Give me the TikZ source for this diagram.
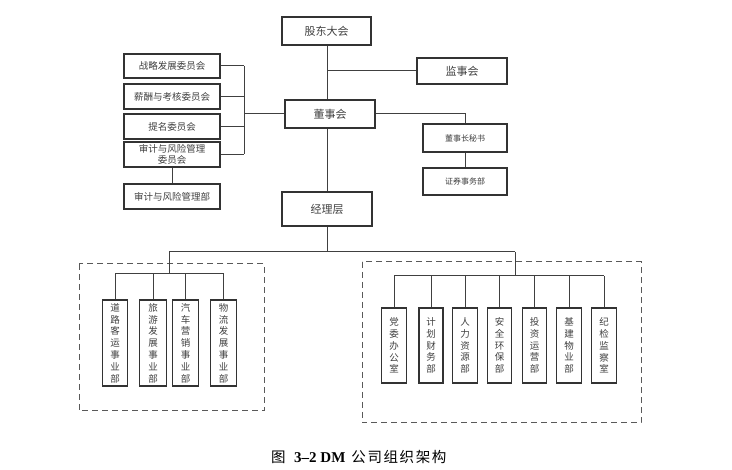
\documentclass[tikz,border=0pt]{standalone}
\usepackage{fontspec}
\setmainfont{Liberation Serif}
\newfontfamily\cjk{Noto Sans CJK SC}
\begin{document}
\begin{tikzpicture}[x=1pt,y=-1pt,
  box/.style={draw=black!80, line width=1.3pt, fill=white, inner sep=0pt, text=black!75,
    font=\cjk\fontsize{9.5}{11}\selectfont, align=center},
  big/.style={box, font=\cjk\fontsize{11}{13}\selectfont},
  small/.style={box, font=\cjk\fontsize{8}{10}\selectfont},
  vbox/.style={box, font=\cjk\fontsize{9.5}{11.8}\selectfont},
  conn/.style={draw=black!75, line width=1pt},
  grp/.style={draw=black!65, line width=1pt, dash pattern=on 6pt off 4pt}]
\useasboundingbox (0,0) rectangle (732,470);

% dashed groups
\draw[grp] (79,264) rectangle (264,411);
\draw[grp] (362,262) rectangle (641,423);

% top nodes
\node[big, minimum width=89, minimum height=28] (gd) at (326.5,31) {股东大会};
\node[big, minimum width=90, minimum height=26] (js) at (462,71) {监事会};
\node[big, minimum width=90, minimum height=28] (dsh) at (330,114) {董事会};
\node[big, minimum width=90, minimum height=34] (jl) at (327,209) {经理层};

% committees
\node[box, minimum width=96, minimum height=24] (c1) at (172,66) {战略发展委员会};
\node[box, minimum width=96, minimum height=25] (c2) at (172,96.5) {薪酬与考核委员会};
\node[box, minimum width=96, minimum height=25] (c3) at (172,126.5) {提名委员会};
\node[box, minimum width=96, minimum height=25] (c4) at (172,154.5) {审计与风险管理\\委员会};
\node[box, minimum width=96, minimum height=25] (c5) at (172,196.5) {审计与风险管理部};

% secretary
\node[small, minimum width=84, minimum height=28] (ms) at (465,138) {董事长秘书};
\node[small, minimum width=84, minimum height=27] (zq) at (465,181.5) {证券事务部};

% left business units
\node[vbox, minimum width=25, minimum height=86] (l1) at (115,343) {道\\路\\客\\运\\事\\业\\部};
\node[vbox, minimum width=27, minimum height=86] (l2) at (153,343) {旅\\游\\发\\展\\事\\业\\部};
\node[vbox, minimum width=26, minimum height=86] (l3) at (185.5,343) {汽\\车\\营\\销\\事\\业\\部};
\node[vbox, minimum width=26, minimum height=86] (l4) at (223.5,343) {物\\流\\发\\展\\事\\业\\部};

% right functional departments
\node[vbox, minimum width=25, minimum height=75] (r1) at (394,345.5) {党\\委\\办\\公\\室};
\node[vbox, minimum width=24, minimum height=75] (r2) at (431,345.5) {计\\划\\财\\务\\部};
\node[vbox, minimum width=25, minimum height=75] (r3) at (465,345.5) {人\\力\\资\\源\\部};
\node[vbox, minimum width=24, minimum height=75] (r4) at (499.5,345.5) {安\\全\\环\\保\\部};
\node[vbox, minimum width=24, minimum height=75] (r5) at (534.5,345.5) {投\\资\\运\\营\\部};
\node[vbox, minimum width=25, minimum height=75] (r6) at (569,345.5) {基\\建\\物\\业\\部};
\node[vbox, minimum width=25, minimum height=75] (r7) at (604,345.5) {纪\\检\\监\\察\\室};

% helper coordinates
\coordinate (trunk) at (327,0);
\coordinate (bk) at (244,114);
\coordinate (busL) at (169,252);
\coordinate (busR) at (515,252);
\coordinate (subL) at (169,274);
\coordinate (subR) at (515,276);

% trunk
\draw[conn] (gd.south -| trunk) -- (dsh.north -| trunk);
\draw[conn] (js.west -| trunk) -- (js.west);
\draw[conn] (dsh.south -| trunk) -- (jl.north -| trunk);
\draw[conn] (jl.south -| trunk) -- (busL -| trunk);

% committees bracket
\draw[conn] (c1.east) -- (c1.east -| bk);
\draw[conn] (c2.east) -- (c2.east -| bk);
\draw[conn] (c3.east) -- (c3.east -| bk);
\draw[conn] (c4.east) -- (c4.east -| bk);
\draw[conn] (c1.east -| bk) -- (c4.east -| bk);
\draw[conn] (dsh.west -| bk) -- (dsh.west);
\draw[conn] (c4.south) -- (c5.north);

% secretary
\draw[conn] (dsh.east) -| (ms.north);
\draw[conn] (ms.south) -- (zq.north);

% manager bus
\draw[conn] (busL) -- (busR);
\draw[conn] (busL) -- (subL);
\draw[conn] (busR) -- (subR);
\draw[conn] (subL -| l1.north) -- (subL -| l4.north);
\draw[conn] (subR -| r1.north) -- (subR -| r7.north);
\foreach \n in {l1,l2,l3,l4} \draw[conn] (\n.north) -- (subL -| \n.north);
\foreach \n in {r1,r2,r3,r4,r5,r6,r7} \draw[conn] (\n.north) -- (subR -| \n.north);

% caption
\node[anchor=west, inner sep=0pt, font=\fontsize{14.5}{16}\selectfont] (cap) at (271,457)
  {{\cjk 图}\hspace{8.5pt}\textbf{\fontsize{15}{16}\selectfont 3–2 DM}\hspace{6pt}{\cjk 公\hspace{1.6pt}司\hspace{1.6pt}组\hspace{1.6pt}织\hspace{1.6pt}架\hspace{1.6pt}构}};
\end{tikzpicture}
\end{document}
